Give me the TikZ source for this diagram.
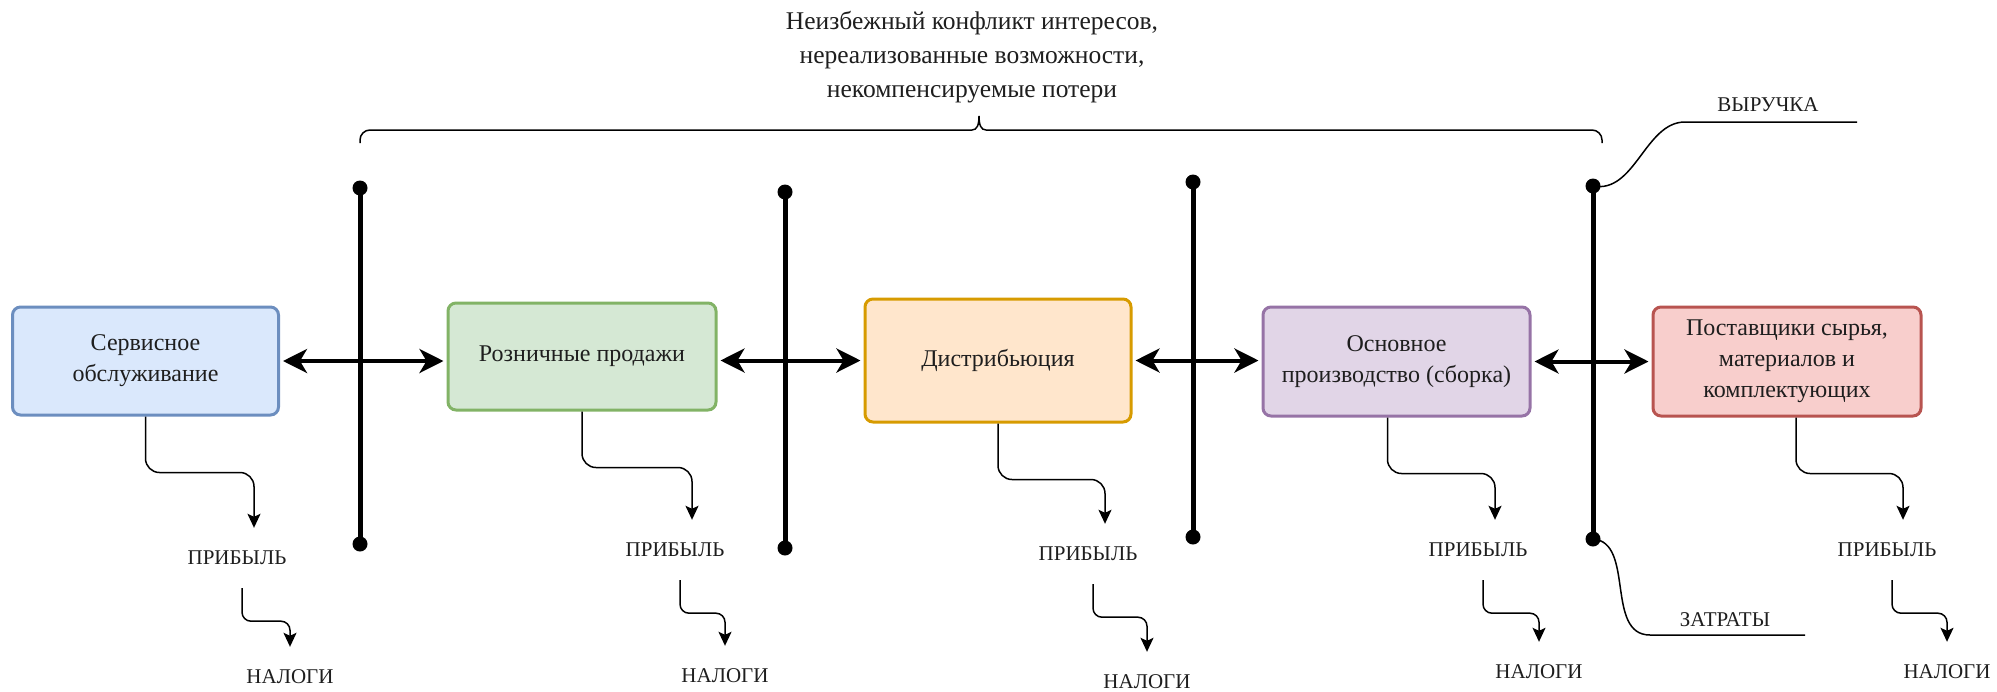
\documentclass[tikz,border=0pt]{standalone}
\usepackage{fontspec}
\setmainfont{Liberation Serif}
\usetikzlibrary{arrows.meta,calc}
\definecolor{txt}{HTML}{1E1E1E}
\definecolor{bF}{HTML}{DAE8FC}\definecolor{bS}{HTML}{6C8EBF}
\definecolor{gF}{HTML}{D5E8D4}\definecolor{gS}{HTML}{82B366}
\definecolor{oF}{HTML}{FFE6CC}\definecolor{oS}{HTML}{D79B00}
\definecolor{pF}{HTML}{E1D5E7}\definecolor{pS}{HTML}{9673A6}
\definecolor{rF}{HTML}{F8CECC}\definecolor{rS}{HTML}{B85450}
\tikzset{
  box/.style={draw, rounded corners=8pt, line width=3pt, align=center,
    font=\fontsize{24}{31}\selectfont, text=txt, inner sep=0pt},
  lbl/.style={font=\fontsize{21}{25}\selectfont, minimum height=60pt, inner sep=0pt, text=txt},
  toptext/.style={font=\fontsize{25.5}{34}\selectfont, align=center, inner sep=0pt, text=txt},
  dbl/.style={line width=4pt, {Stealth[length=24pt,width=24pt,inset=7pt]}-{Stealth[length=24pt,width=24pt,inset=7pt]}, shorten <=3pt, shorten >=3pt},
  flow/.style={line width=1.5pt, -{Stealth[length=14pt,width=13pt,inset=3pt]}, rounded corners=14pt},
  flowb/.style={line width=1.5pt, -{Stealth[length=14pt,width=13pt,inset=3pt]}, rounded corners=9pt},
  barline/.style={line width=5pt},
  dotend/.style={circle, fill=black, inner sep=0pt, minimum size=15pt},
  thinline/.style={line width=1.5pt},
}
\begin{document}
\begin{tikzpicture}[x=1pt,y=-1pt]
\useasboundingbox (0,0) rectangle (1997,691);

% boxes
\node[box, fill=bF, draw=bS, minimum width=266pt, minimum height=108pt] (b1) at (145.5,361) {Сервисное\\обслуживание};
\node[box, fill=gF, draw=gS, minimum width=268pt, minimum height=107pt] (b2) at (582,356.5) {Розничные продажи};
\node[box, fill=oF, draw=oS, minimum width=266pt, minimum height=123pt] (b3) at (998,360.5) {Дистрибьюция};
\node[box, fill=pF, draw=pS, minimum width=267pt, minimum height=109pt] (b4) at (1396.5,361.5) {Основное\\производство (сборка)};
\node[box, fill=rF, draw=rS, minimum width=268pt, minimum height=109pt] (b5) at (1787,361.5) {Поставщики сырья,\\материалов и\\комплектующих};

% bars
\coordinate (t1) at (360,188); \coordinate (u1) at (360,544);
\coordinate (t2) at (785,192); \coordinate (u2) at (785,548);
\coordinate (t3) at (1193,182); \coordinate (u3) at (1193,537);
\coordinate (t4) at (1593,186); \coordinate (u4) at (1593,539);
\foreach \i in {1,2,3,4}{
  \draw[barline] (t\i) -- (u\i);
  \node[dotend] at (t\i) {};
  \node[dotend] at (u\i) {};
}

% double arrows
\draw[dbl] (b1.east) -- (b1.east -| b2.west);
\draw[dbl] (b3.west -| b2.east) -- (b3.west);
\draw[dbl] (b3.east) -- (b3.east -| b4.west);
\draw[dbl] (b4.east) -- (b5.west);

% labels
\node[lbl] (p1) at (237,558) {ПРИБЫЛЬ};
\node[lbl] (p2) at (675,550) {ПРИБЫЛЬ};
\node[lbl] (p3) at (1088,554) {ПРИБЫЛЬ};
\node[lbl] (p4) at (1478,550) {ПРИБЫЛЬ};
\node[lbl] (p5) at (1887,550) {ПРИБЫЛЬ};
\node[lbl] (n1) at (290,677) {НАЛОГИ};
\node[lbl] (n2) at (725,676) {НАЛОГИ};
\node[lbl] (n3) at (1147,682) {НАЛОГИ};
\node[lbl] (n4) at (1539,672) {НАЛОГИ};
\node[lbl] (n5) at (1947,672) {НАЛОГИ};

\draw[flow] (b1.south) -- ++(0,56) -| ([xshift=17pt]p1.north);
\draw[flow] (b2.south) -- ++(0,56) -| ([xshift=17pt]p2.north);
\draw[flow] (b3.south) -- ++(0,56) -| ([xshift=17pt]p3.north);
\draw[flow] ([xshift=-9pt]b4.south) -- ++(0,56) -| ([xshift=17pt]p4.north);
\draw[flow] ([xshift=9pt]b5.south) -- ++(0,56) -| ([xshift=16pt]p5.north);

\foreach \i in {1,...,5}{
  \draw[flowb] ([xshift=5pt]p\i.south) -- ++(0,33) -| (n\i.north);
}

% brace and top text
\draw[thinline, rounded corners=10pt] (360,143) -- (360,130) -- (972,130);
\draw[thinline] (972,130) .. controls (977,130) and (979,125) .. (979,116)
   .. controls (979,125) and (981,130) .. (986,130);
\draw[thinline, rounded corners=10pt] (986,130) -- (1602,130) -- (1602,143);
\node[toptext] (top) at (972,57) {Неизбежный конфликт интересов,\\нереализованные возможности,\\некомпенсируемые потери};

% revenue / costs
\node[lbl, minimum height=0pt] (rev) at (1768,105) {ВЫРУЧКА};
\coordinate (revend) at (1857,122);
\draw[thinline] (t4) .. controls (1635,194) and (1645,122) .. (1685,122) -- (revend);
\node[lbl, minimum height=0pt] (cost) at (1725,620) {ЗАТРАТЫ};
\coordinate (costend) at (1805,635);
\draw[thinline] (u4) .. controls (1635,542) and (1605,635) .. (1650,635) -- (costend);
\end{tikzpicture}
\end{document}
